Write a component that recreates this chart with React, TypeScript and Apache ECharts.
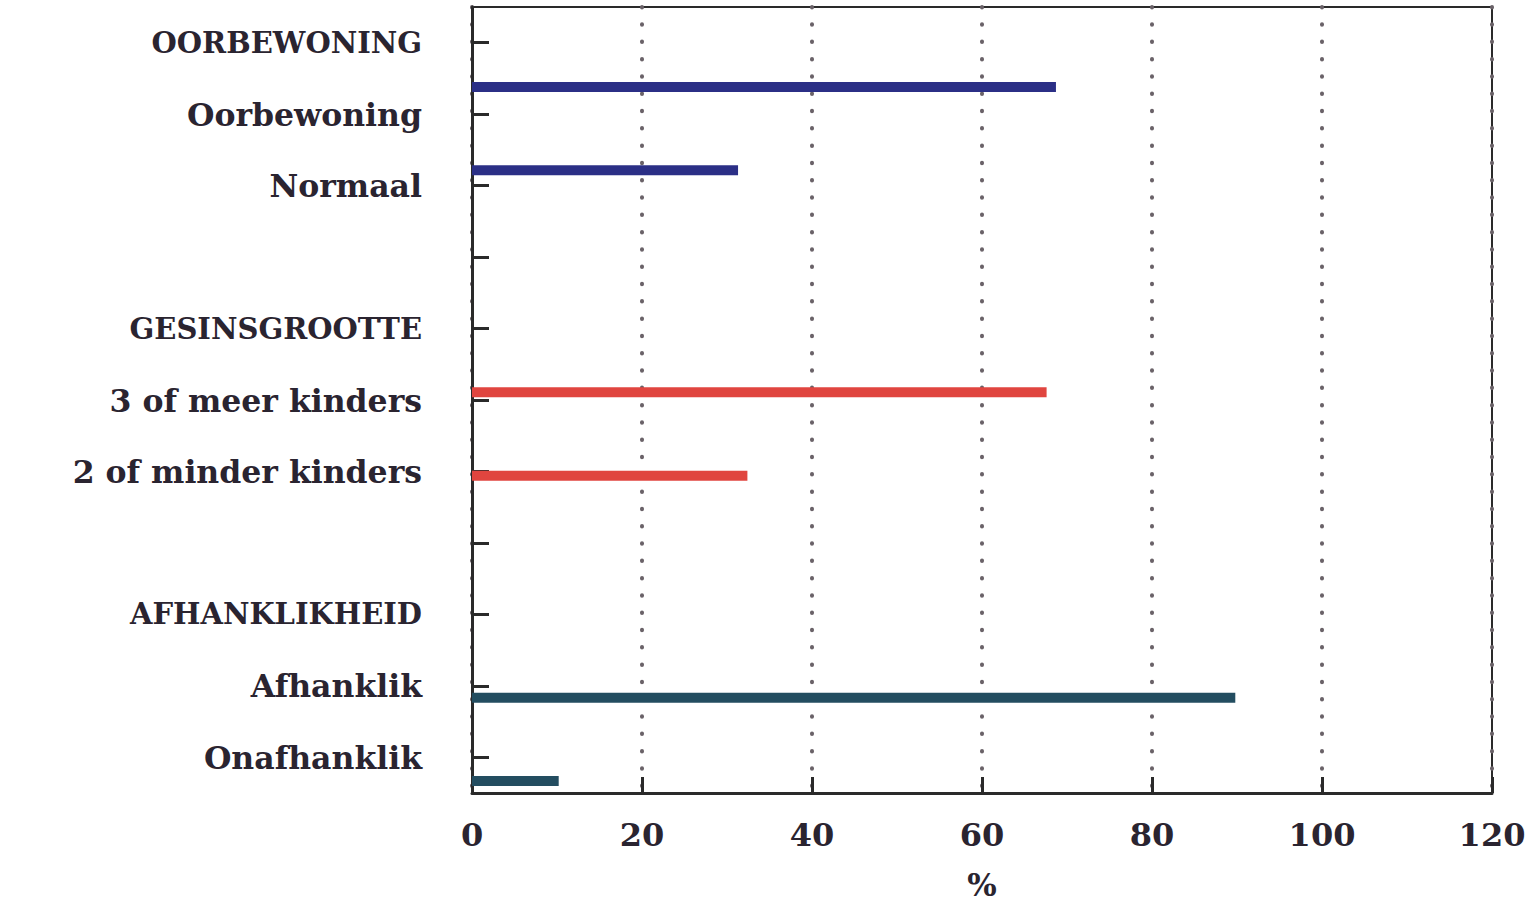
import React, { useEffect, useRef } from "react";
import * as echarts from "echarts";

// ---- data ----
const categories = [
  "OORBEWONING",
  "Oorbewoning",
  "Normaal",
  " ",
  "GESINSGROOTTE",
  "3 of meer kinders",
  "2 of minder kinders",
  "  ",
  "AFHANKLIKHEID",
  "Afhanklik",
  "Onafhanklik",
];
const barLabels = ["Oorbewoning", "Normaal", "3 of meer kinders", "2 of minder kinders", "Afhanklik", "Onafhanklik"];
const barValues = [68.7, 31.3, 67.6, 32.4, 89.8, 10.2];
const xTicks = [0, 20, 40, 60, 80, 100, 120];
const xAxisName = "%";

// ---- layout / style ----
const barColors = ["#2b2f86", "#2b2f86", "#e0453f", "#e0453f", "#234d60", "#234d60"];
const barSlotCount = 26;
const barSlots = [0, 3, 11, 14, 22, 25];
const textColor = "#2a2430";
const fontFamily = "'DejaVu Serif', serif";

export default function App() {
  const ref = useRef<HTMLDivElement>(null);
  useEffect(() => {
    if (!ref.current) return;
    const chart = echarts.init(ref.current, null, { renderer: "svg" });
    const slotNames = Array.from({ length: barSlotCount }, (_, i) => "slot" + i);
    const barData: any[] = Array.from({ length: barSlotCount }, () => "-");
    barSlots.forEach((s, i) => {
      barData[s] = { value: barValues[i], name: barLabels[i], itemStyle: { color: barColors[i] } };
    });
    chart.setOption({
      animation: false,
      backgroundColor: "#ffffff",
      grid: [
        {
          left: 472,
          right: 47,
          top: 7,
          bottom: 112,
          show: true,
          borderColor: "#2a2a2a",
          borderWidth: 2,
          outerBoundsMode: "none",
          containLabel: false,
        },
        { left: 472, right: 47, top: 73, bottom: 110, outerBoundsMode: "none", containLabel: false },
      ],
      xAxis: [
        {
          type: "value",
          gridIndex: 0,
          min: 0,
          max: xTicks[xTicks.length - 1],
          interval: xTicks[1] - xTicks[0],
          axisLine: { show: true, lineStyle: { color: "#2a2a2a", width: 3 } },
          axisTick: { show: true, inside: true, length: 16, lineStyle: { color: "#2a2a2a", width: 3 } },
          axisLabel: {
            color: textColor,
            fontFamily,
            fontWeight: "bold",
            fontSize: 32,
            margin: 26,
          },
          splitLine: {
            show: true,
            lineStyle: { color: "#6a6268", width: 4, type: [0.5, 16.8], cap: "round" },
          },
          name: xAxisName,
          nameLocation: "middle",
          nameGap: 76,
          nameTextStyle: { color: textColor, fontFamily, fontWeight: "bold", fontSize: 31 },
        },
        { type: "value", gridIndex: 1, min: 0, max: xTicks[xTicks.length - 1], show: false, splitLine: { show: false } },
      ],
      yAxis: [
        {
          type: "category",
          gridIndex: 0,
          data: categories,
          inverse: true,
          axisLine: { show: true, lineStyle: { color: "#2a2a2a", width: 3 } },
          axisTick: { show: true, inside: true, alignWithLabel: true, length: 17, lineStyle: { color: "#2a2a2a", width: 3 } },
          axisLabel: {
            margin: 50,
            formatter: (v: string) => (v.trim() && v === v.toUpperCase() ? "{cap|" + v + "}" : "{low|" + v + "}"),
            rich: {
              cap: { color: textColor, fontFamily, fontWeight: "bold", fontSize: 29 },
              low: { color: textColor, fontFamily, fontWeight: "bold", fontSize: 31.5 },
            },
          },
          splitLine: { show: false },
        },
        {
          type: "category",
          gridIndex: 1,
          data: slotNames,
          inverse: true,
          show: false,
        },
      ],
      series: [
        {
          type: "bar",
          xAxisIndex: 1,
          yAxisIndex: 1,
          data: barData,
          barWidth: 10,
        },
      ],
    });
    return () => chart.dispose();
  }, []);
  return <div ref={ref} style={{ position: "absolute", left: 0, top: 0, width: 1539, height: 905 }} />;
}
